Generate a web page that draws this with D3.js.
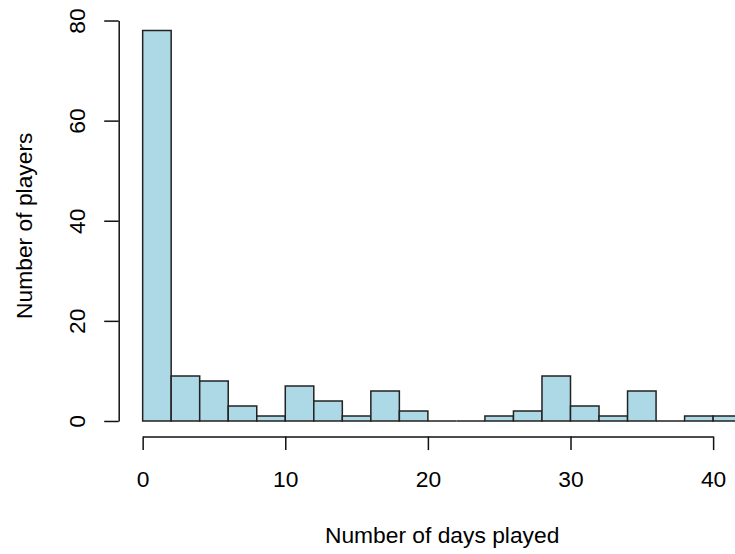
<!DOCTYPE html>
<html>
<head>
<meta charset="utf-8">
<script src="https://cdn.jsdelivr.net/npm/d3@7"></script>
<style>
  body { margin: 0; background: #fff; }
  svg { display: block; font-family: "Liberation Sans", Arial, Helvetica, sans-serif; }
</style>
</head>
<body>
<div id="chart"></div>
<script>
// histogram bins (width 2 days) and counts
var binStarts = [0, 2, 4, 6, 8, 10, 12, 14, 16, 18, 20, 22, 24, 26, 28, 30, 32, 34, 36, 38, 40];
var binWidth = 2;
var counts = [78, 9, 8, 3, 1, 7, 4, 1, 6, 2, 0, 0, 1, 2, 9, 3, 1, 6, 0, 1, 1];
var xTicks = [0, 10, 20, 30, 40];
var yTicks = [0, 20, 40, 60, 80];
var xTitle = "Number of days played";
var yTitle = "Number of players";

document.addEventListener("DOMContentLoaded", function() {
  var width = 735, height = 554;
  var fontSize = 22.8;

  var svg = d3.select("#chart")
      .append("svg")
      .attr("width", width)
      .attr("height", height);

  // R style: limits padded by 4% of the range
  var xMax = binStarts[binStarts.length - 1] + binWidth;
  var xPad = xMax * 0.04;
  var yMax = d3.max(counts);
  var yPad = yMax * 0.04;

  var x = d3.scaleLinear().domain([-xPad, xMax + xPad]).range([118.7, 765.6]);
  var y = d3.scaleLinear().domain([-yPad, yMax + yPad]).range([436.6, 14.9]);

  // bars as closed paths so empty bins still show as a flat line
  svg.append("g")
    .selectAll("path")
    .data(counts)
    .enter().append("path")
      .attr("d", function(d, i) {
        var x0 = x(binStarts[i]), x1 = x(binStarts[i] + binWidth);
        var y0 = y(0), y1 = y(d);
        return "M" + x0 + "," + y0 + "L" + x0 + "," + y1 + "L" + x1 + "," + y1 + "L" + x1 + "," + y0 + "Z";
      })
      .attr("fill", "#add8e6")
      .attr("stroke", "#222")
      .attr("stroke-width", 1.5);

  // x axis sits on the bottom edge of the plot region
  var xAxisScale = d3.scaleLinear().domain([0, 40]).range([x(0), x(40)]);
  var gx = svg.append("g")
      .attr("transform", "translate(0," + y(-yPad) + ")")
      .call(d3.axisBottom(xAxisScale).tickValues(xTicks).tickSize(13.5).tickSizeOuter(0));
  gx.selectAll("text")
      .attr("y", 50.5)
      .attr("dy", 0)
      .attr("font-size", fontSize)
      .attr("fill", "#000");

  var yAxisScale = d3.scaleLinear().domain([0, 80]).range([y(0), y(80)]);
  var gy = svg.append("g")
      .attr("transform", "translate(" + x(-xPad) + ",0)")
      .call(d3.axisLeft(yAxisScale).tickValues(yTicks).tickSize(14.5).tickSizeOuter(0));
  gy.selectAll("text")
      .attr("x", null)
      .attr("dy", 0)
      .attr("text-anchor", "middle")
      .attr("transform", "translate(-34,0) rotate(-90)")
      .attr("font-size", fontSize)
      .attr("fill", "#000");

  svg.selectAll(".domain, .tick line")
      .attr("stroke", "#111")
      .attr("stroke-width", 1.5);
  gx.attr("font-family", null);
  gy.attr("font-family", null);

  svg.append("text")
      .attr("x", (x.range()[0] + x.range()[1]) / 2)
      .attr("y", 543)
      .attr("text-anchor", "middle")
      .attr("font-size", fontSize)
      .text(xTitle);

  svg.append("text")
      .attr("transform", "translate(32," + (y.range()[0] + y.range()[1]) / 2 + ") rotate(-90)")
      .attr("text-anchor", "middle")
      .attr("font-size", fontSize)
      .text(yTitle);
});
</script>
</body>
</html>
